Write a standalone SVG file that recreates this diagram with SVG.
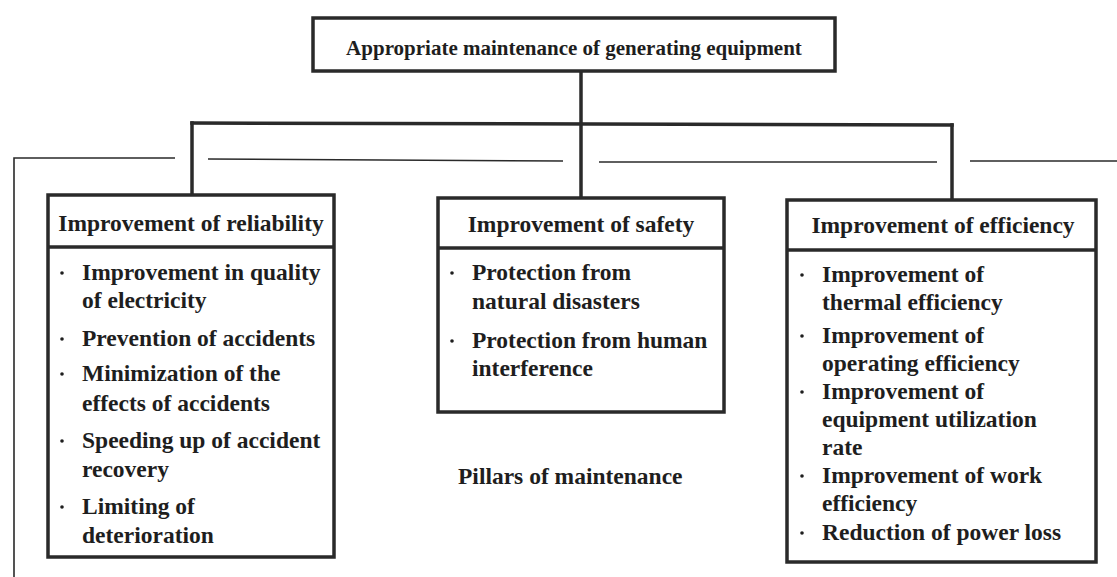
<svg xmlns="http://www.w3.org/2000/svg" width="1117" height="577" viewBox="0 0 1117 577">
  <style>
    .box { fill: #ffffff; stroke: #2a2a2a; stroke-width: 3.5; }
    .div { stroke: #2a2a2a; stroke-width: 3.5; }
    .wire { fill: none; stroke: #2a2a2a; stroke-width: 3.5; stroke-linecap: square; }
    .thin { fill: none; stroke: #2a2a2a; stroke-width: 1.6; }
    text { font-family: "Liberation Serif", "Times New Roman", serif; font-weight: bold; fill: #1e1e1e; }
    .top { font-size: 21px; }
    .hd { font-size: 23.5px; }
    .it { font-size: 23.5px; }
    .dot { fill: #1e1e1e; }
  </style>
  <rect width="1117" height="577" fill="#ffffff"/>

  <!-- thin frame lines behind the pillars -->
  <g id="frame">
    <polyline class="thin" points="14,577 14,158 175,158"/>
    <line class="thin" x1="208" y1="159" x2="563" y2="161"/>
    <line class="thin" x1="599" y1="162" x2="937" y2="162"/>
    <line class="thin" x1="970" y1="161" x2="1117" y2="161"/>
  </g>

  <g id="connectors">
    <line class="wire" x1="581" y1="71" x2="581" y2="198"/>
    <line class="wire" x1="192" y1="123" x2="952" y2="125"/>
    <line class="wire" x1="192" y1="123" x2="192" y2="195"/>
    <line class="wire" x1="952" y1="125" x2="952" y2="200"/>
  </g>

  <g id="root">
    <rect class="box" x="313" y="18" width="522" height="53"/>
    <text class="top" x="574" y="55" text-anchor="middle">Appropriate maintenance of generating equipment</text>
  </g>

  <g id="reliability">
    <rect class="box" x="48" y="195" width="286" height="362"/>
    <line class="div" x1="48" y1="247" x2="334" y2="247"/>
    <text class="hd" x="191" y="231" text-anchor="middle">Improvement of reliability</text>
    <circle class="dot" cx="62" cy="273" r="1.8"/>
    <text class="it" x="82" y="280">Improvement in quality</text>
    <text class="it" x="82" y="308">of electricity</text>
    <circle class="dot" cx="62" cy="339" r="1.8"/>
    <text class="it" x="82" y="346">Prevention of accidents</text>
    <circle class="dot" cx="62" cy="374" r="1.8"/>
    <text class="it" x="82" y="381">Minimization of the</text>
    <text class="it" x="82" y="411">effects of accidents</text>
    <circle class="dot" cx="62" cy="441" r="1.8"/>
    <text class="it" x="82" y="448">Speeding up of accident</text>
    <text class="it" x="82" y="477">recovery</text>
    <circle class="dot" cx="62" cy="507" r="1.8"/>
    <text class="it" x="82" y="514">Limiting of</text>
    <text class="it" x="82" y="543">deterioration</text>
  </g>

  <g id="safety">
    <rect class="box" x="438" y="198" width="286" height="214"/>
    <line class="div" x1="438" y1="248" x2="724" y2="248"/>
    <text class="hd" x="581" y="232" text-anchor="middle">Improvement of safety</text>
    <circle class="dot" cx="452" cy="273" r="1.8"/>
    <text class="it" x="472" y="280">Protection from</text>
    <text class="it" x="472" y="309">natural disasters</text>
    <circle class="dot" cx="452" cy="341" r="1.8"/>
    <text class="it" x="472" y="348">Protection from human</text>
    <text class="it" x="472" y="376">interference</text>
  </g>

  <g id="pillars-label">
    <text class="it" x="458" y="484">Pillars of maintenance</text>
  </g>

  <g id="efficiency">
    <rect class="box" x="787" y="200" width="309" height="362"/>
    <line class="div" x1="787" y1="250" x2="1096" y2="250"/>
    <text class="hd" x="943" y="233" text-anchor="middle">Improvement of efficiency</text>
    <circle class="dot" cx="802" cy="275" r="1.8"/>
    <text class="it" x="822" y="282">Improvement of</text>
    <text class="it" x="822" y="310">thermal efficiency</text>
    <circle class="dot" cx="802" cy="336" r="1.8"/>
    <text class="it" x="822" y="343">Improvement of</text>
    <text class="it" x="822" y="371">operating efficiency</text>
    <circle class="dot" cx="802" cy="392" r="1.8"/>
    <text class="it" x="822" y="399">Improvement of</text>
    <text class="it" x="822" y="427">equipment utilization</text>
    <text class="it" x="822" y="455">rate</text>
    <circle class="dot" cx="802" cy="476" r="1.8"/>
    <text class="it" x="822" y="483">Improvement of work</text>
    <text class="it" x="822" y="511">efficiency</text>
    <circle class="dot" cx="802" cy="533" r="1.8"/>
    <text class="it" x="822" y="540">Reduction of power loss</text>
  </g>
</svg>
